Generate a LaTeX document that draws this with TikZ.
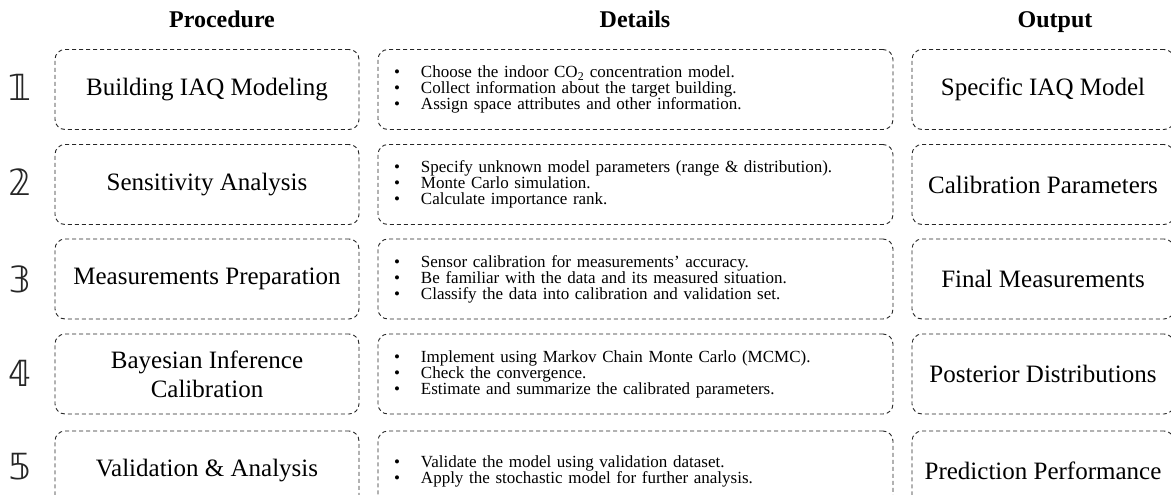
\documentclass[tikz,border=0pt]{standalone}
\usepackage{fontspec}
\setmainfont{Liberation Serif}
\newfontfamily\digitfont{DejaVu Sans}
\begin{document}
\begin{tikzpicture}[x=1pt,y=-1pt,
  frame/.style={draw=black!85, dash pattern=on 4pt off 3pt, line width=0.9pt,
    rounded corners=10pt, minimum height=80pt, inner sep=0pt},
  procbox/.style={frame, minimum width=304pt, align=center,
    font=\fontsize{25}{29}\selectfont},
  detbox/.style={frame, inner xsep=16pt, text width=483pt, align=left,
    font=\fontsize{17}{16}\selectfont},
  outbox/.style={frame, minimum width=262pt, align=center,
    font=\fontsize{25}{29}\selectfont},
  header/.style={anchor=base, font=\bfseries\fontsize{24}{26}\selectfont},
  stepnum/.style={font=\digitfont\fontsize{36}{36}\selectfont, text=black!85}]
\useasboundingbox (0,0) rectangle (1171,495);
\clip (0,0) rectangle (1171,495);
\fill[white] (0,0) rectangle (1171,495);

\newcommand{\bul}{\makebox[27pt][l]{\textbullet}}

% column headers
\node[header] (hp) at (222,28) {Procedure};
\node[header] (hd) at (635,28) {Details};
\node[header] (ho) at (1055,28) {Output};

% step numbers
\node[stepnum] (n1) at (20,87) {𝟙};
\node[stepnum] (n2) at (20,182) {𝟚};
\node[stepnum] (n3) at (20,279) {𝟛};
\node[stepnum] (n4) at (20,373) {𝟜};
\node[stepnum] (n5) at (20,467) {𝟝};

% procedure column
\node[procbox] (p1) at (207,89.5) {Building IAQ Modeling};
\node[procbox] (p2) at (207,184.5) {Sensitivity Analysis};
\node[procbox] (p3) at (207,279) {Measurements Preparation};
\node[procbox] (p4) at (207,374) {Bayesian Inference\\Calibration};
\node[procbox] (p5) at (207,471) {Validation \& Analysis};

% details column
\node[detbox] (d1) at (635.5,89.5) {\bul Choose the indoor CO\textsubscript{2} concentration model.\\
  \bul Collect information about the target building.\\
  \bul Assign space attributes and other information.};
\node[detbox] (d2) at (635.5,184.5) {\bul Specify unknown model parameters (range \& distribution).\\
  \bul Monte Carlo simulation.\\
  \bul Calculate importance rank.};
\node[detbox] (d3) at (635.5,279) {\bul Sensor calibration for measurements’ accuracy.\\
  \bul Be familiar with the data and its measured situation.\\
  \bul Classify the data into calibration and validation set.};
\node[detbox] (d4) at (635.5,374) {\bul Implement using Markov Chain Monte Carlo (MCMC).\\
  \bul Check the convergence.\\
  \bul Estimate and summarize the calibrated parameters.};
\node[detbox] (d5) at (635.5,471) {\bul Validate the model using validation dataset.\\
  \bul Apply the stochastic model for further analysis.};

% output column
\node[outbox] (o1) at (1043,89.5) {Specific IAQ Model};
\node[outbox] (o2) at (1043,184.5) {Calibration Parameters};
\node[outbox] (o3) at (1043,279) {Final Measurements};
\node[outbox] (o4) at (1043,374) {Posterior Distributions};
\node[outbox] (o5) at (1043,471) {Prediction Performance};
\end{tikzpicture}
\end{document}
